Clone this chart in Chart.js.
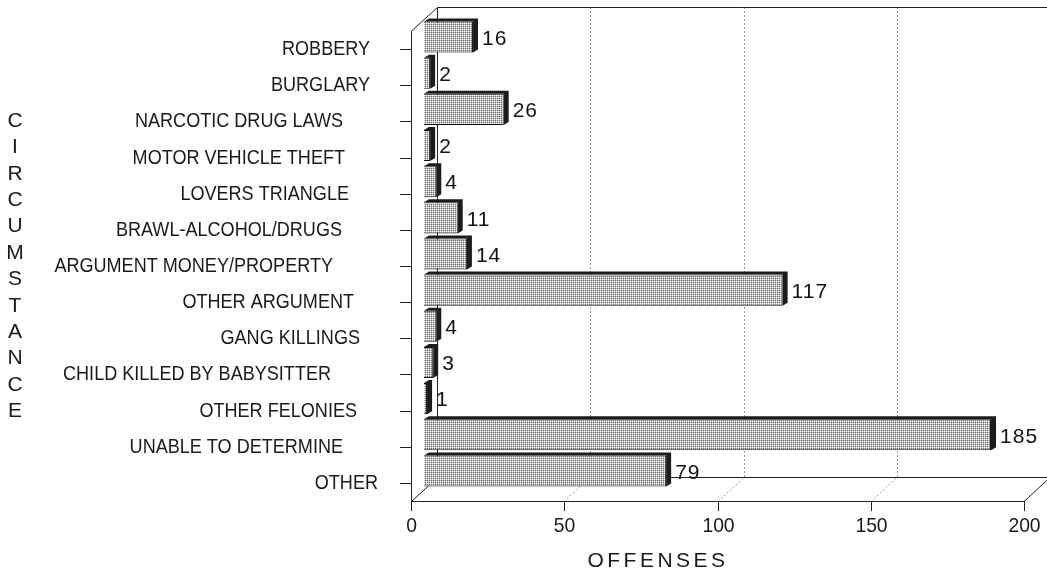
<!DOCTYPE html>
<html><head><meta charset="utf-8">
<script src="https://cdn.jsdelivr.net/npm/chart.js@4"></script>
<style>html,body{margin:0;padding:0;background:#fff}#wrap{width:1047px;height:575px}</style>
</head><body><div id="wrap"><canvas id="c" width="1047" height="575"></canvas></div>
<script>
// ---- data ----
const categories = ["ROBBERY","BURGLARY","NARCOTIC DRUG LAWS","MOTOR VEHICLE THEFT","LOVERS TRIANGLE","BRAWL-ALCOHOL/DRUGS","ARGUMENT MONEY/PROPERTY","OTHER ARGUMENT","GANG KILLINGS","CHILD KILLED BY BABYSITTER","OTHER FELONIES","UNABLE TO DETERMINE","OTHER"];
const offenses = [16,2,26,2,4,11,14,117,4,3,1,185,79];
const xTicks = [0,50,100,150,200];
const yTitle = "CIRCUMSTANCE";
const xTitle = "OFFENSES";

// ---- layout / style (not data) ----
const FONT = "'Liberation Sans', Arial, sans-serif";
const DEPTH = {x: 26, y: -24};      // back wall offset
const BAR_SHIFT = {x: 13, y: -12};  // bars sit half-way in depth
const EXT = {x: 5, y: -3};          // bar extrusion
const labelRightEdge = [370,370,343,345,349,342,333,354,360,331,357,343,378];
const LABEL_SCALE_X = 0.86;

function makePattern(){
  const p = document.createElement('canvas'); p.width = 4; p.height = 4;
  const g = p.getContext('2d');
  for (let y=0;y<4;y++) for (let x=0;x<4;x++) {
    let c;
    if (x%2===0 && y%2===0) c = '#6a6a6a';
    else if (x%2===1 && y%2===1) c = '#ffffff';
    else c = '#c4c4c4';
    g.fillStyle = c; g.fillRect(x,y,1,1);
  }
  return g.createPattern(p,'repeat');
}

const ctx0 = document.getElementById('c').getContext('2d');
const pattern = makePattern();

const box3d = {
  id: 'box3d',
  beforeDatasetsDraw(chart){
    const {ctx, chartArea:a, scales:{x}} = chart;
    ctx.save();
    ctx.strokeStyle = '#222'; ctx.lineWidth = 1;
    const bx0 = a.left + DEPTH.x, by0 = a.top + DEPTH.y, bx1 = a.right + DEPTH.x, by1 = a.bottom + DEPTH.y;
    ctx.save();
    ctx.strokeStyle = '#9a9a9a'; ctx.setLineDash([2,2]);
    xTicks.slice(1, -1).forEach(v => {
      const px = Math.round(x.getPixelForValue(v)) + 0.5;
      ctx.beginPath();
      ctx.moveTo(px + DEPTH.x, by0); ctx.lineTo(px + DEPTH.x, by1);
      ctx.lineTo(px, a.bottom);
      ctx.stroke();
    });
    ctx.restore();
    ctx.beginPath();
    ctx.moveTo(Math.round(bx0)+0.5, Math.round(by1)+0.5);
    ctx.lineTo(Math.round(bx0)+0.5, Math.round(by0)+0.5);
    ctx.lineTo(bx1, Math.round(by0)+0.5);
    ctx.moveTo(Math.round(bx0)+0.5, Math.round(by1)+0.5);
    ctx.lineTo(bx1, Math.round(by1)+0.5);
    ctx.stroke();
    ctx.beginPath();
    ctx.moveTo(a.left+0.5, a.top); ctx.lineTo(bx0+0.5, by0+0.5);
    ctx.moveTo(a.left+0.5, a.bottom+0.5); ctx.lineTo(bx0+0.5, by1+0.5);
    ctx.moveTo(a.right, a.bottom+0.5); ctx.lineTo(bx1, by1+0.5);
    ctx.stroke();
    ctx.beginPath();
    ctx.moveTo(a.left+0.5, a.top); ctx.lineTo(a.left+0.5, a.bottom+0.5); ctx.lineTo(a.right, a.bottom+0.5);
    ctx.stroke();
    ctx.restore();

    ctx.save();
    ctx.translate(BAR_SHIFT.x, BAR_SHIFT.y);
    const meta = chart.getDatasetMeta(0);
    ctx.fillStyle = '#1c1c1c';
    meta.data.forEach(el => {
      const p = el.getProps(['x','y','base','height'], true);
      const x0 = p.base, x1 = p.x, y0 = p.y - p.height/2, y1 = p.y + p.height/2;
      ctx.beginPath();
      ctx.moveTo(x0, y0);
      ctx.lineTo(x0 + EXT.x, y0 + EXT.y);
      ctx.lineTo(x1 + EXT.x, y0 + EXT.y);
      ctx.lineTo(x1 + EXT.x, y1 + EXT.y);
      ctx.lineTo(x1, y1);
      ctx.lineTo(x1, y0);
      ctx.closePath();
      ctx.fill();
    });
  },
  afterDatasetsDraw(chart){
    const {ctx, chartArea:a, scales:{x,y}} = chart;
    ctx.restore();
    ctx.save();
    ctx.fillStyle = '#111';
    ctx.font = '21px ' + FONT;
    ctx.letterSpacing = '1px';
    ctx.textAlign = 'left'; ctx.textBaseline = 'middle';
    const meta = chart.getDatasetMeta(0);
    meta.data.forEach((el, i) => {
      const p = el.getProps(['x','y'], true);
      ctx.fillText(String(offenses[i]), p.x + BAR_SHIFT.x + EXT.x + 4, p.y + BAR_SHIFT.y + 2);
    });
    ctx.letterSpacing = '0px';
    ctx.strokeStyle = '#222'; ctx.lineWidth = 1;
    ctx.font = '21px ' + FONT; ctx.fillStyle = '#1a1a1a'; ctx.textAlign = 'right';
    categories.forEach((c, i) => {
      const py = Math.round(y.getPixelForValue(i)) + 0.5;
      ctx.beginPath(); ctx.moveTo(a.left - 11, py); ctx.lineTo(a.left, py); ctx.stroke();
      ctx.save();
      ctx.translate(labelRightEdge[i], py);
      ctx.scale(LABEL_SCALE_X, 1);
      ctx.fillText(c, 0, 0);
      ctx.restore();
    });
    ctx.textAlign = 'center'; ctx.textBaseline = 'middle'; ctx.font = '21px ' + FONT;
    xTicks.forEach(v => {
      const px = Math.round(x.getPixelForValue(v)) + 0.5;
      ctx.beginPath(); ctx.moveTo(px, a.bottom); ctx.lineTo(px, a.bottom + 10); ctx.stroke();
      ctx.save();
      ctx.translate(px, a.bottom + 25);
      ctx.scale(0.92, 1);
      ctx.fillText(String(v), 0, 0);
      ctx.restore();
    });
    ctx.font = '21px ' + FONT; ctx.fillStyle = '#1a1a1a';
    ctx.letterSpacing = '3.5px';
    ctx.fillText(xTitle, 658, 561);
    ctx.letterSpacing = '0px';
    const letters = yTitle.split('');
    letters.forEach((ch, i) => ctx.fillText(ch, 15, 121 + i * 26.4));
    ctx.restore();
  }
};

new Chart(ctx0, {
  type: 'bar',
  data: {
    labels: categories,
    datasets: [{
      data: offenses,
      backgroundColor: pattern,
      borderColor: '#111',
      borderWidth: 1,
      barPercentage: 0.86,
      categoryPercentage: 1,
      clip: false
    }]
  },
  options: {
    indexAxis: 'y',
    responsive: false,
    devicePixelRatio: 1,
    animation: false,
    layout: {padding: {left: 411, right: 23, top: 31, bottom: 74}},
    plugins: {legend: {display: false}, tooltip: {enabled: false}, title: {display: false}},
    scales: {
      x: {type: 'linear', min: 0, max: 200, display: false},
      y: {type: 'category', display: false, offset: true}
    }
  },
  plugins: [box3d]
});
</script>
</body></html>
